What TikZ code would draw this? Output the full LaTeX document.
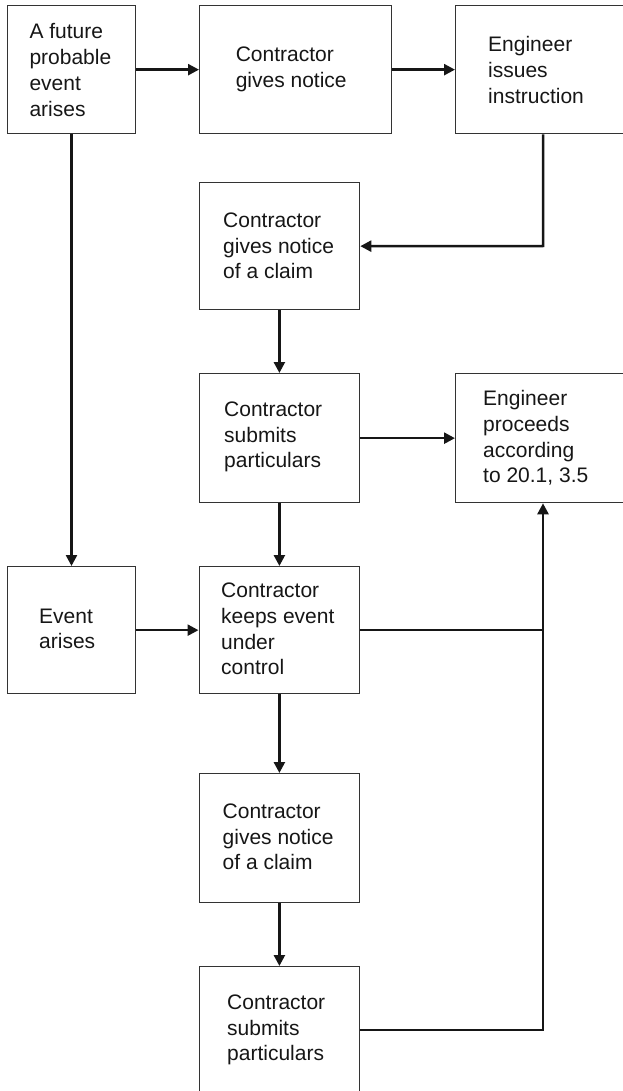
\documentclass[tikz,border=0pt]{standalone}
\usepackage{fontspec}
\setmainfont{Liberation Sans}
\usetikzlibrary{arrows.meta}
\definecolor{boxline}{HTML}{333333}
\definecolor{ink}{HTML}{161616}
\tikzset{
  box/.style={rectangle, draw=boxline, line width=1.3pt, anchor=north west, inner sep=0pt},
  txt/.style={anchor=west, align=left, inner sep=0pt, text=ink, font=\fontsize{21}{25.7}\selectfont},
  conn/.style={draw=ink, line width=2.5pt},
  arr/.style={conn, -{Triangle[length=11pt,width=11pt]}}
}
\begin{document}
\begin{tikzpicture}[x=1pt,y=-1pt]
\useasboundingbox (0,0) rectangle (623,1091);
\clip (0,0) rectangle (623,1091);
% boxes
\node[box, minimum width=128.3pt, minimum height=128pt] (b1) at (6.7,5) {};
\node[box, minimum width=192pt, minimum height=128pt] (b2) at (199,5) {};
\node[box, minimum width=190pt, minimum height=128pt] (b3) at (455,5) {};
\node[box, minimum width=160.5pt, minimum height=127pt] (b4) at (198.5,182) {};
\node[box, minimum width=160.5pt, minimum height=129pt] (b5) at (198.5,373) {};
\node[box, minimum width=190pt, minimum height=129pt] (b6) at (455,373) {};
\node[box, minimum width=128.3pt, minimum height=127pt] (b7) at (6.7,566) {};
\node[box, minimum width=160.5pt, minimum height=127pt] (b8) at (198.5,566) {};
\node[box, minimum width=160.5pt, minimum height=129pt] (b9) at (198.5,773) {};
\node[box, minimum width=160.5pt, minimum height=128pt] (b10) at (198.5,966) {};
% texts
\node[txt] (t1) at (29.3,70) {A future\\probable\\event\\arises};
\node[txt] (t2) at (235.6,69) {Contractor\\gives notice};
\node[txt] (t3) at (488,70) {Engineer\\issues\\instruction};
\node[txt] (t4) at (223,246) {Contractor\\gives notice\\of a claim};
\node[txt] (t5) at (224,437) {Contractor\\submits\\particulars};
\node[txt] (t6) at (483,438) {Engineer\\proceeds\\according\\to 20.1, 3.5};
\node[txt] (t7) at (39,629) {Event\\arises};
\node[txt] (t8) at (221,629) {Contractor\\keeps event\\under\\control};
\node[txt] (t9) at (222.5,837) {Contractor\\gives notice\\of a claim};
\node[txt] (t10) at (227,1030) {Contractor\\submits\\particulars};
% junction coordinates
\coordinate (j1) at (543,246);
\coordinate (j3) at (543,1030);
% connectors
\draw[arr] (b1.east) -- (b2.west);
\draw[arr] (b2.east) -- (b3.west |- b2.east);
\draw[arr] (b3.south -| j1) -- (j1) -- (b4.east);
\draw[arr] (b4.south) -- (b5.north);
\draw[arr] (b5.east) -- (b6.west |- b5.east);
\draw[arr] (b5.south) -- (b8.north);
\draw[arr] (b1.south) -- (b7.north);
\draw[arr] (b7.east) -- (b8.west);
\draw[conn] (b8.east) -- (b8.east -| j3);
\draw[arr] (b8.south) -- (b9.north);
\draw[arr] (b9.south) -- (b10.north);
\draw[arr] (b10.east |- j3) -- (j3) -- (b6.south -| j3);
\end{tikzpicture}
\end{document}
